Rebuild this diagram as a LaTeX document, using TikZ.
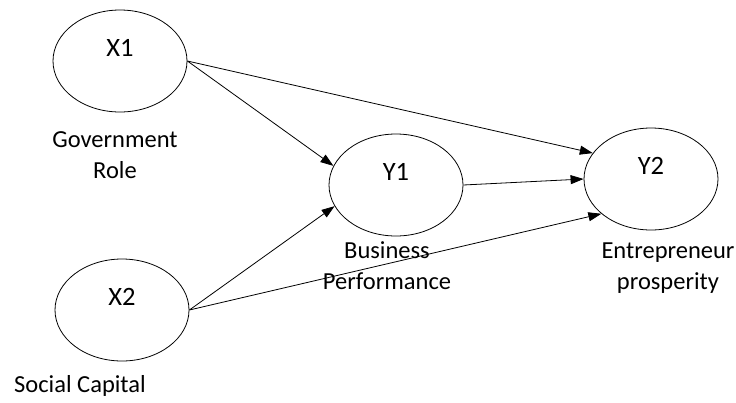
\documentclass[tikz,border=0pt]{standalone}
\usepackage{fontspec}
\setmainfont{Carlito}
\usepackage{tikz}
\usetikzlibrary{arrows.meta,positioning,shapes.geometric}

\begin{document}
\begin{tikzpicture}[
  x=1pt, y=-1pt,
  var/.style={draw, ellipse, line width=0.8pt, minimum width=134pt, minimum height=102pt,
              inner sep=0pt, text height=18pt, text depth=27pt, font=\fontsize{26.5}{26.5}\selectfont},
  lbl/.style={align=center, inner sep=0pt, font=\fontsize{24.5}{31}\selectfont},
  ar/.style={-{Triangle[length=13pt,width=9pt]}, line width=0.8pt}
]
\useasboundingbox (0,0) rectangle (736,402);
% latent variables
\node[var] (x1) at (120,61) {X1};
\node[var] (x2) at (122,310) {X2};
\node[var] (y1) at (396,185) {Y1};
\node[var] (y2) at (651,179) {Y2};
% construct names
\node[lbl] (x1lbl) at (115,155) {Government\\Role};
\node[lbl] (x2lbl) at (80,386) {Social Capital};
\node[lbl] (y1lbl) at (387,266) {Business\\Performance};
\node[lbl] (y2lbl) at (668,268) {Entrepreneur\\prosperity};
% paths
\draw[ar] (x1.east) -- (y2.156);
\draw[ar] (x1.east) -- (y1.163);
\draw[ar] (x2.east) -- (y1.199);
\draw[ar] (x2.east) -- (y2.215);
\draw[ar] (y1.east) -- (y2.west);
\end{tikzpicture}
\end{document}
